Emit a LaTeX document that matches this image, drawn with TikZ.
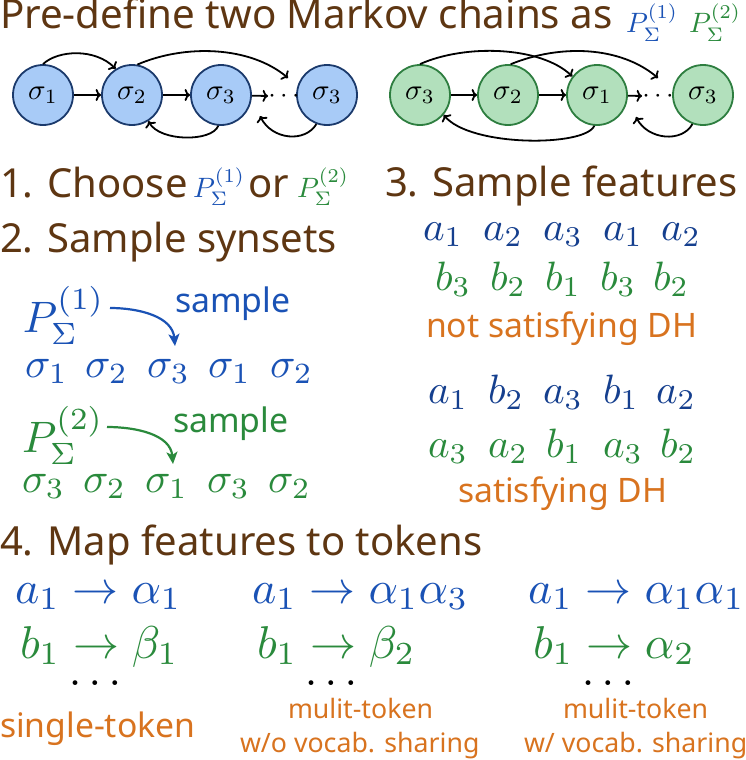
\documentclass[tikz,border=0pt]{standalone}
\usepackage{graphicx}
\usepackage[no-math]{fontspec}
\setmainfont{Noto Sans}
\usetikzlibrary{arrows.meta}
\newcommand\mth[2]{\scalebox{#1}{$#2$}}
\definecolor{brn}{HTML}{5E3612}
\definecolor{blu}{HTML}{1A52B5}
\definecolor{dblu}{HTML}{153F8E}
\definecolor{grn}{HTML}{2A8A3C}
\definecolor{org}{HTML}{D8731F}
\definecolor{bfill}{HTML}{A8CBF7}
\definecolor{bdraw}{HTML}{1B3A6C}
\definecolor{gfill}{HTML}{B2E0BC}
\definecolor{gdraw}{HTML}{2E7E40}
\tikzset{
  txt/.style={inner sep=0pt, outer sep=0pt, anchor=base west},
  ttl/.style={txt, text=brn, font=\fontsize{40.3}{44}\selectfont},
  hd/.style={txt, text=brn, font=\fontsize{40}{44}\selectfont},
  lbl/.style={txt, text=org, font=\fontsize{33.7}{36}\selectfont},
  lblsm/.style={txt, text=org, font=\fontsize{26.7}{30}\selectfont},
  smp/.style={txt, font=\fontsize{33.8}{36}\selectfont},
  bstate/.style={circle, minimum size=60pt, inner sep=0pt, line width=1.8pt, draw=bdraw, fill=bfill},
  gstate/.style={circle, minimum size=60pt, inner sep=0pt, line width=1.8pt, draw=gdraw, fill=gfill},
  tr/.style={-{To[length=5.5pt,width=12pt]}, line width=1.8pt, black},
  samp/.style={-{Stealth[length=12pt,width=11pt,inset=3pt]}, line width=2.2pt},
  dts/.style={inner sep=0pt, anchor=base},
}
\begin{document}
\begin{tikzpicture}[x=1pt,y=-1pt]
\useasboundingbox (0,0) rectangle (746,760);
% title
\node[ttl] (title) at (0,28.5) {Pre-define two Markov chains as};
\node[txt, text=blu] (tp1) at (626,33) {\mth{2.8}{P_\Sigma^{(1)}}};
\node[txt, text=grn] (tp2) at (689,33) {\mth{2.8}{P_\Sigma^{(2)}}};
% left chain
\node[bstate] (s1) at (43,95) {\mth{2.9}{\sigma_1}};
\node[bstate] (s2) at (132,95) {\mth{2.9}{\sigma_2}};
\node[bstate] (s3) at (221,95) {\mth{2.9}{\sigma_3}};
\node[bstate] (s4) at (327,95) {\mth{2.9}{\sigma_3}};
\node[dts] (d1) at (284,102) {\mth{2.7}{\cdots}};
\coordinate (d1t) at (288,78);
\coordinate (d1b) at (260,116);
\draw[tr] (s1) -- (s2);
\draw[tr] (s2) -- (s3);
\draw[tr] (s3) -- (d1.west);
\draw[tr] (s1.90) .. controls (58,50) and (95,48) .. (s2.122);
\draw[tr] (s2.80) .. controls (185,44) and (250,46) .. (d1t);
\draw[tr] (s3.265) .. controls (212,142) and (160,142) .. (s2.-58);
\draw[tr] (s4.250) .. controls (305,143) and (272,140) .. (d1b);
% right chain
\node[gstate] (t1) at (420,95) {\mth{2.9}{\sigma_3}};
\node[gstate] (t2) at (508,95) {\mth{2.9}{\sigma_2}};
\node[gstate] (t3) at (597,95) {\mth{2.9}{\sigma_1}};
\node[gstate] (t4) at (703,95) {\mth{2.9}{\sigma_3}};
\node[dts] (d2) at (658,102) {\mth{2.7}{\cdots}};
\coordinate (d2t) at (658,78);
\coordinate (d2b) at (636,117);
\draw[tr] (t1) -- (t2);
\draw[tr] (t2) -- (t3);
\draw[tr] (t3) -- (d2.west);
\draw[tr] (t1.90) .. controls (465,44) and (540,46) .. (t3.143);
\draw[tr] (t2.85) .. controls (560,44) and (620,46) .. (d2t);
\draw[tr] (t3.265) .. controls (585,147) and (470,147) .. (t1.-40);
\draw[tr] (t4.250) .. controls (682,143) and (648,140) .. (d2b);
% headings
\node[hd] (h1) at (0,197) {1. Choose};
\node[txt, text=blu] (hp1) at (193,197) {\mth{2.8}{P_\Sigma^{(1)}}};
\node[hd] (hor) at (248,197) {or};
\node[txt, text=grn] (hp2) at (297,197) {\mth{2.8}{P_\Sigma^{(2)}}};
\node[hd] (h2) at (0,252) {2. Sample synsets};
\node[hd] (h3) at (385,196) {3. Sample features};
\node[hd] (h4) at (0,555) {4. Map features to tokens};
% section 2
\node[txt, text=blu] (P1) at (23,332) {\mth{4.4}{P_\Sigma^{(1)}}};
\node[smp, text=blu] (sm1) at (175,312) {sample};
\coordinate (sa1) at (110,308);
\coordinate (sa2) at (175,346);
\draw[samp, blu] (sa1) to[out=0,in=95] (sa2);
\foreach \x/\s [count=\i] in {25/1,85/2,147/3,208/1,270/2}
  \node[txt, text=blu] (ra\i) at (\x,377) {\mth{4.2}{\sigma_\s}};
\node[txt, text=grn] (P2) at (22,452) {\mth{4.4}{P_\Sigma^{(2)}}};
\node[smp, text=grn] (sm2) at (173,432) {sample};
\coordinate (sb1) at (107,427);
\coordinate (sb2) at (173,464);
\draw[samp, grn] (sb1) to[out=0,in=95] (sb2);
\foreach \x/\s [count=\i] in {22/3,83/2,145/1,207/3,268/2}
  \node[txt, text=grn] (rb\i) at (\x,492) {\mth{4.2}{\sigma_\s}};
% section 3
\foreach \x/\s [count=\i] in {423/a_1,483/a_2,543/a_3,603/a_1,661/a_2}
  \node[txt, text=dblu] (fa\i) at (\x,240) {\mth{4.1}{\s}};
\foreach \x/\s [count=\i] in {435/b_3,490/b_2,545/b_1,600/b_3,653/b_2}
  \node[txt, text=grn] (fb\i) at (\x,290) {\mth{4.1}{\s}};
\node[lbl] (nd) at (426,337) {not satisfying DH};
\foreach \x/\s [count=\i] in {428/a_1,488/b_2,543/a_3,603/b_1,656/a_2}
  \node[txt, text=dblu] (fc\i) at (\x,403) {\mth{4.1}{\s}};
\foreach \x/\s [count=\i] in {428/a_3,488/a_2,546/b_1,603/a_3,660/b_2}
  \node[txt, text=grn] (fd\i) at (\x,457) {\mth{4.1}{\s}};
\node[lbl] (sd) at (458,502) {satisfying DH};
% section 4
\node[txt, text=blu] (m1a) at (15,603) {\mth{4.6}{a_1\to\alpha_1}};
\node[txt, text=grn] (m1b) at (20,658) {\mth{4.6}{b_1\to\beta_1}};
\node[dts] (m1d) at (95,685.5) {\mth{4.5}{\ldots}};
\node[lbl] (m1l) at (0,737) {single-token};
\node[txt, text=blu] (m2a) at (252,603) {\mth{4.6}{a_1\to\alpha_1\alpha_3}};
\node[txt, text=grn] (m2b) at (257,658) {\mth{4.6}{b_1\to\beta_2}};
\node[dts] (m2d) at (331,685.5) {\mth{4.5}{\ldots}};
\node[lblsm] (m2l) at (288,718) {mulit-token};
\node[lblsm] (m2m) at (240,752) {w/o vocab. sharing};
\node[txt, text=blu] (m3a) at (528,603) {\mth{4.6}{a_1\to\alpha_1\alpha_1}};
\node[txt, text=grn] (m3b) at (533,658) {\mth{4.6}{b_1\to\alpha_2}};
\node[dts] (m3d) at (608,685.5) {\mth{4.5}{\ldots}};
\node[lblsm] (m3l) at (563,718) {mulit-token};
\node[lblsm] (m3m) at (524,752) {w/ vocab. sharing};
\end{tikzpicture}
\end{document}
